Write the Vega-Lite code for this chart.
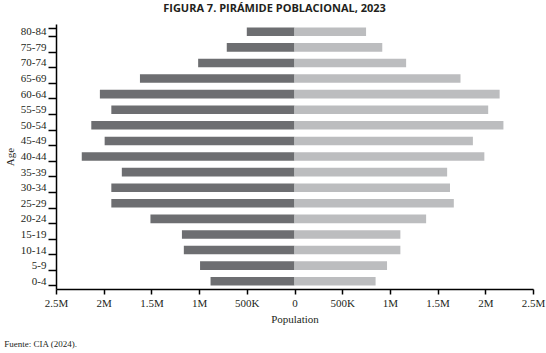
{
  "$schema": "https://vega.github.io/schema/vega-lite/v6.json",
  "background": "white",
  "padding": {"left": 4, "top": 3, "right": 12, "bottom": 2},
  "title": {"text": "FIGURA 7. PIRÁMIDE POBLACIONAL, 2023", "font": "Open Sans", "fontSize": 11, "letterSpacing": 0.2, "fontWeight": "bold", "color": "#231f20", "anchor": "middle", "offset": 4},
  "config": {"view": {"stroke": null}, "concat": {"spacing": 0}},
  "vconcat": [
    {
      "width": 477,
      "height": 265,
      "title": {"text": "Fuente: CIA (2024).", "orient": "bottom", "anchor": "start", "frame": "bounds", "font": "Liberation Serif", "fontSize": 9, "fontWeight": "normal", "color": "#231f20", "offset": 16},
      "data": {
        "values": [
          {"age": "80-84", "sex": "male", "population": -500000},
          {"age": "75-79", "sex": "male", "population": -710000},
          {"age": "70-74", "sex": "male", "population": -1010000},
          {"age": "65-69", "sex": "male", "population": -1620000},
          {"age": "60-64", "sex": "male", "population": -2040000},
          {"age": "55-59", "sex": "male", "population": -1920000},
          {"age": "50-54", "sex": "male", "population": -2130000},
          {"age": "45-49", "sex": "male", "population": -1990000},
          {"age": "40-44", "sex": "male", "population": -2230000},
          {"age": "35-39", "sex": "male", "population": -1810000},
          {"age": "30-34", "sex": "male", "population": -1920000},
          {"age": "25-29", "sex": "male", "population": -1920000},
          {"age": "20-24", "sex": "male", "population": -1510000},
          {"age": "15-19", "sex": "male", "population": -1180000},
          {"age": "10-14", "sex": "male", "population": -1160000},
          {"age": "5-9", "sex": "male", "population": -990000},
          {"age": "0-4", "sex": "male", "population": -880000},
          {"age": "80-84", "sex": "female", "population": 750000},
          {"age": "75-79", "sex": "female", "population": 920000},
          {"age": "70-74", "sex": "female", "population": 1170000},
          {"age": "65-69", "sex": "female", "population": 1740000},
          {"age": "60-64", "sex": "female", "population": 2150000},
          {"age": "55-59", "sex": "female", "population": 2030000},
          {"age": "50-54", "sex": "female", "population": 2190000},
          {"age": "45-49", "sex": "female", "population": 1870000},
          {"age": "40-44", "sex": "female", "population": 1990000},
          {"age": "35-39", "sex": "female", "population": 1600000},
          {"age": "30-34", "sex": "female", "population": 1630000},
          {"age": "25-29", "sex": "female", "population": 1670000},
          {"age": "20-24", "sex": "female", "population": 1380000},
          {"age": "15-19", "sex": "female", "population": 1110000},
          {"age": "10-14", "sex": "female", "population": 1110000},
          {"age": "5-9", "sex": "female", "population": 970000},
          {"age": "0-4", "sex": "female", "population": 850000}
        ]
      },
      "mark": {"type": "bar"},
      "encoding": {
        "y": {
          "field": "age",
          "type": "nominal",
          "sort": ["80-84", "75-79", "70-74", "65-69", "60-64", "55-59", "50-54", "45-49", "40-44", "35-39", "30-34", "25-29", "20-24", "15-19", "10-14", "5-9", "0-4"],
          "scale": {"paddingInner": 0.45, "paddingOuter": 0.225},
          "axis": {
            "title": "Age",
            "titleFont": "Liberation Serif",
            "titleFontSize": 11,
            "titleFontWeight": "normal",
            "titleColor": "#231f20",
            "titlePadding": 5,
            "labelFont": "Liberation Serif",
            "labelFontSize": 11,
            "labelColor": "#231f20",
            "labelPadding": 2,
            "domainColor": "black",
            "domainWidth": 1.5,
            "tickColor": "black",
            "tickWidth": 1.5,
            "tickSize": 8,
            "tickBand": "extent"
          }
        },
        "x": {
          "field": "population",
          "type": "quantitative",
          "stack": null,
          "scale": {"domain": [-2500000, 2500000], "nice": false},
          "axis": {
            "title": "Population",
            "values": [-2500000, -2000000, -1500000, -1000000, -500000, 0, 500000, 1000000, 1500000, 2000000, 2500000],
            "labelExpr": "replace(format(abs(datum.value), '~s'), 'k', 'K')",
            "labelFlush": false,
            "labelOverlap": false,
            "grid": false,
            "titleFont": "Liberation Serif",
            "titleFontSize": 11,
            "titleFontWeight": "normal",
            "titleColor": "#231f20",
            "titlePadding": 5,
            "labelFont": "Liberation Serif",
            "labelFontSize": 11,
            "labelColor": "#231f20",
            "labelPadding": 3,
            "domainColor": "black",
            "domainWidth": 1.5,
            "tickColor": "black",
            "tickWidth": 1.5,
            "tickSize": 5
          }
        },
        "color": {
          "field": "sex",
          "type": "nominal",
          "scale": {"domain": ["male", "female"], "range": ["#6d6e71", "#bcbdbf"]},
          "legend": null
        }
      }
    }
  ]
}
